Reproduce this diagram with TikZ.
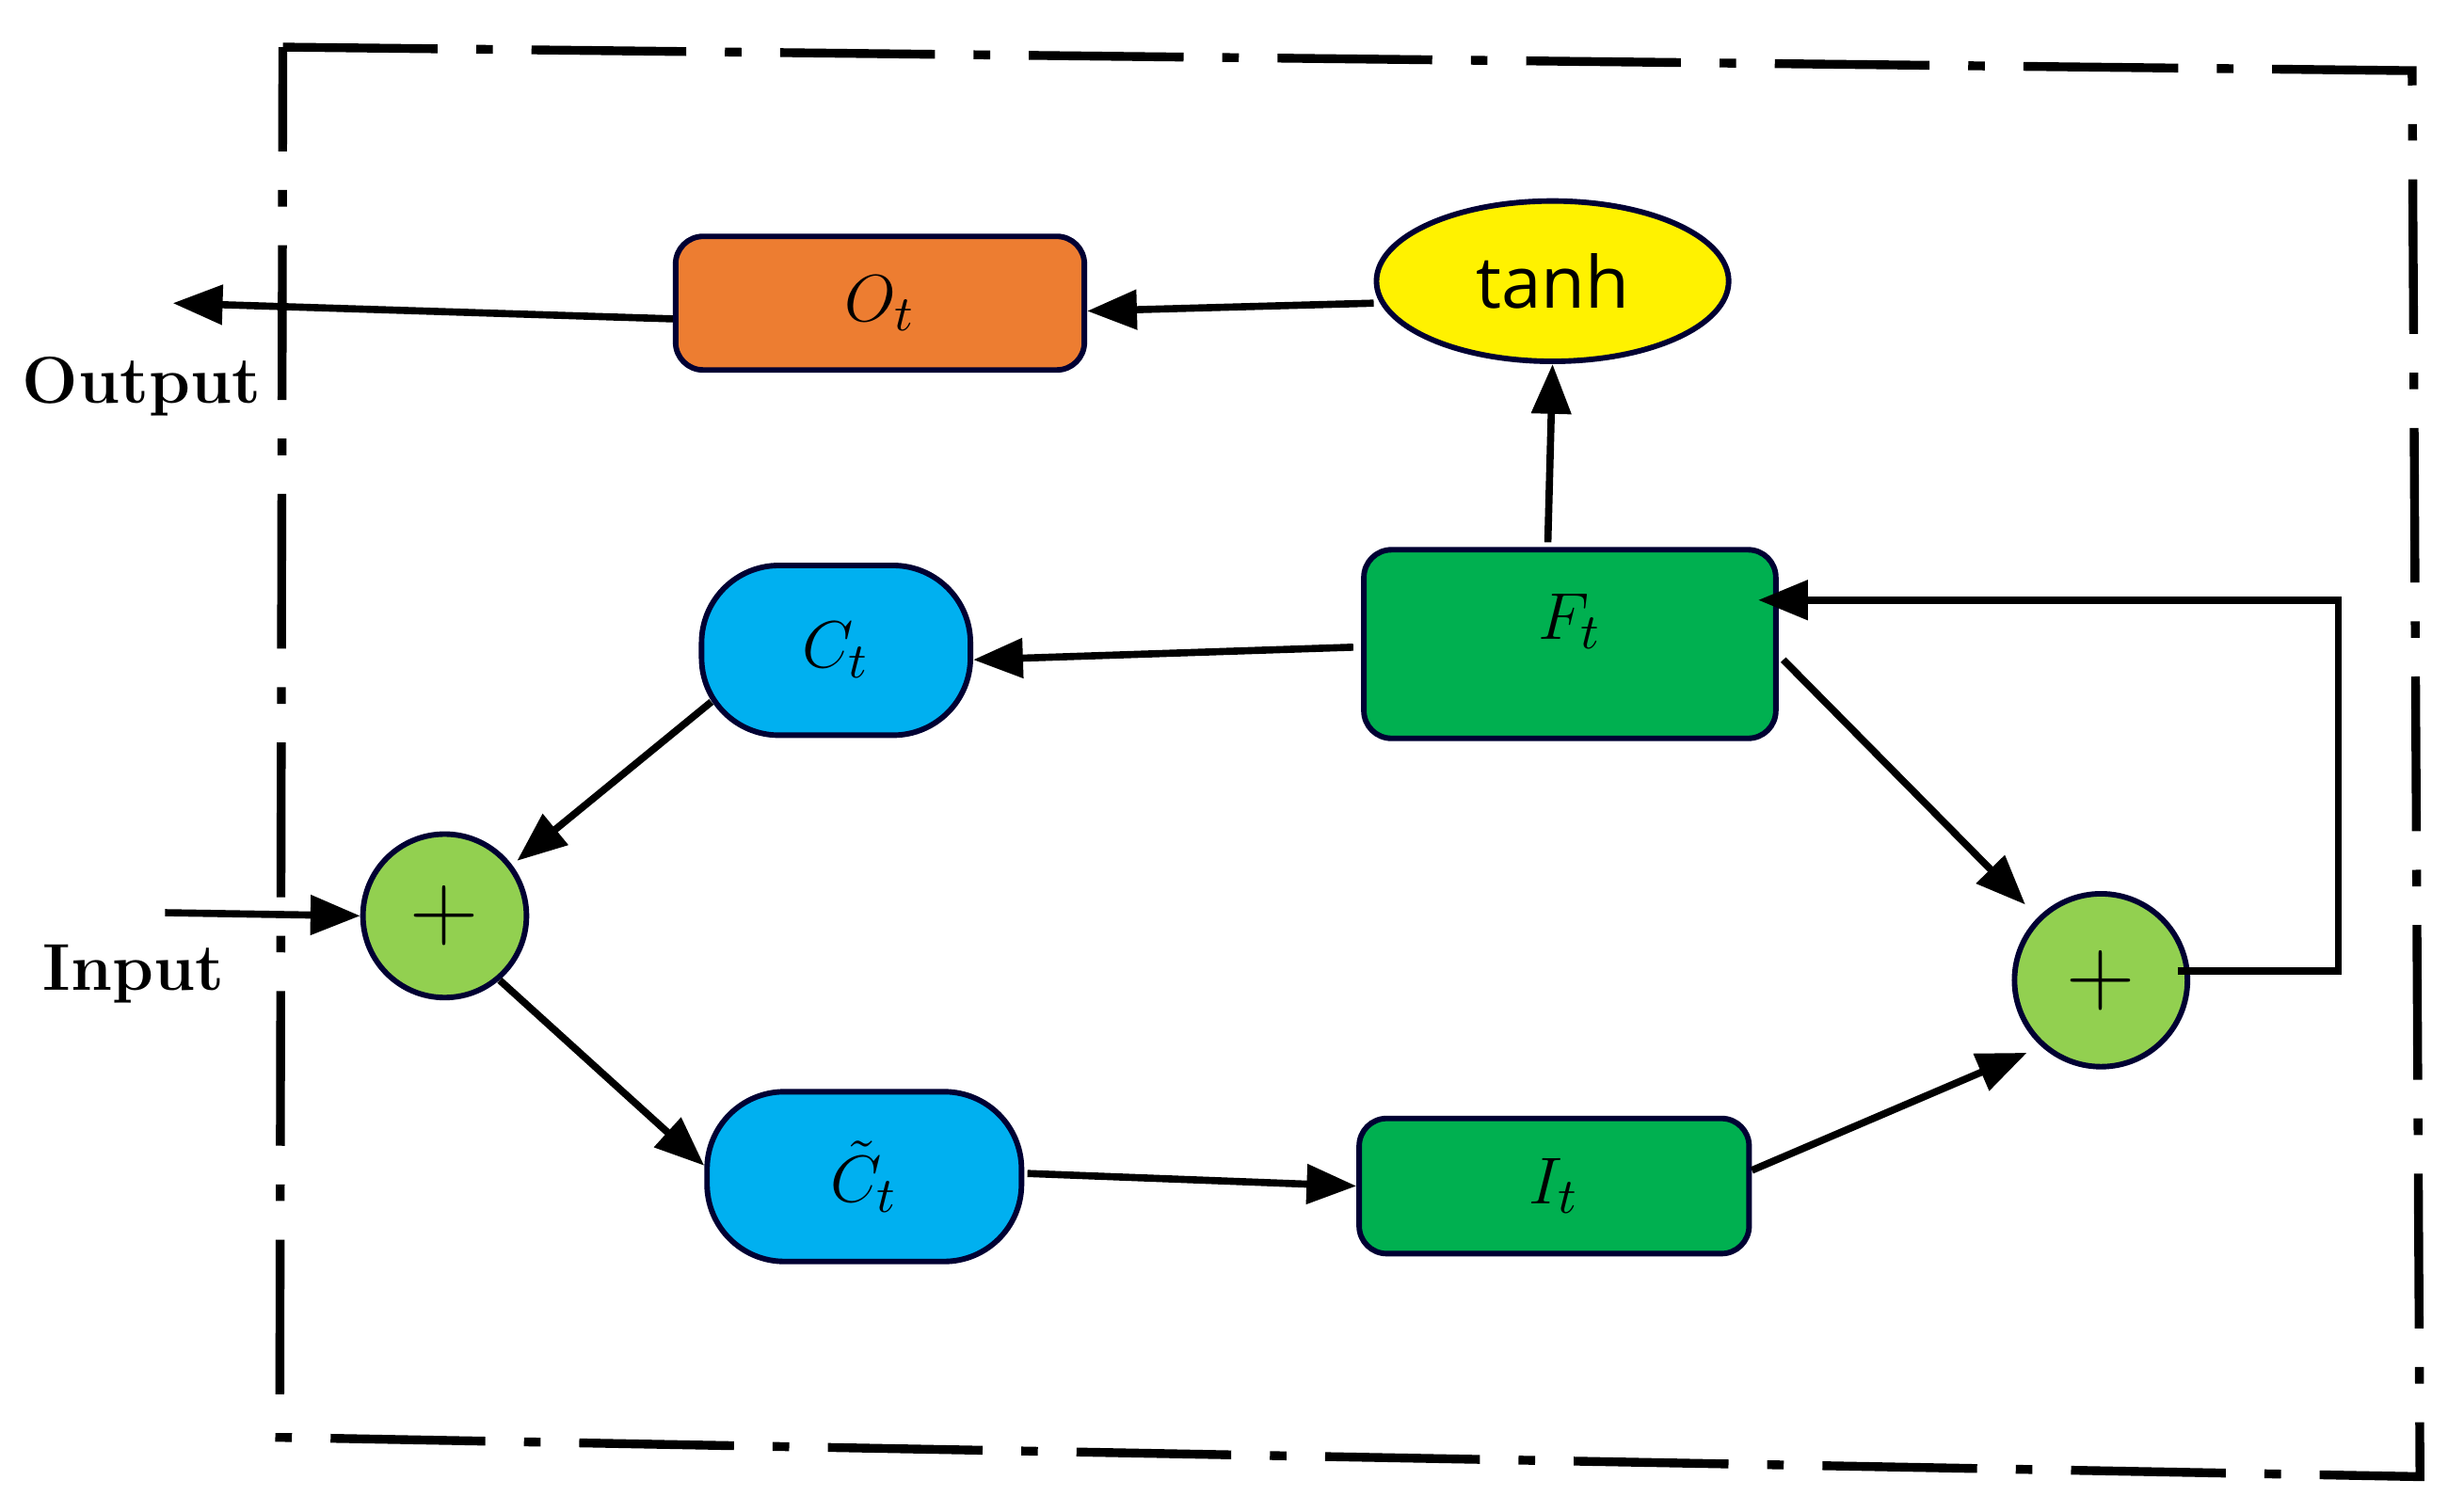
\documentclass[tikz,border=0pt]{standalone}
\usetikzlibrary{arrows.meta,shapes.geometric,calc}
\usepackage{fontspec}
\newfontfamily\sansf{Open Sans}
\begin{document}
\begin{tikzpicture}[x=0.01cm,y=-0.01cm,
  box/.style={draw=black!80!blue,line width=1pt,rounded corners=5pt,inner sep=0pt},
  capsule/.style={draw=black!80!blue,line width=1pt,rounded corners=14pt,inner sep=0pt},
  arr/.style={line width=1.3pt,-{Triangle[length=9pt,width=7pt]}},
  lbl/.style={font=\bfseries\fontsize{12}{14}\selectfont},
  mt/.style={font=\fontsize{13}{15}\selectfont},
  plus/.style={circle,draw=black!80!blue,line width=1pt,fill=lg,inner sep=0pt,font=\fontsize{18}{20}\selectfont}]
\useasboundingbox (0,0) rectangle (1568,962);
\definecolor{og}{RGB}{237,125,49}
\definecolor{gg}{RGB}{0,176,80}
\definecolor{bb}{RGB}{0,176,240}
\definecolor{lg}{RGB}{146,208,80}
\draw[line width=1.6pt,dash pattern=on 28pt off 7pt on 3pt off 7pt] (180,30) -- (1535,45) -- (1540,940) -- (178,915) -- cycle;
\node[box,fill=og,minimum width=2.6cm,minimum height=0.85cm,mt] (ot) at (560,193) {$O_t$};
\node[ellipse,draw=black!80!blue,line width=1pt,fill=yellow,minimum width=2.24cm,minimum height=1.02cm,font=\sansf\fontsize{13}{15}\selectfont] (tanh) at (988,179) {tanh};
\node[box,fill=gg,minimum width=2.62cm,minimum height=1.2cm,mt] (ft) at (999,410) {\raisebox{10pt}{$F_t$}};
\node[capsule,fill=bb,minimum width=1.71cm,minimum height=1.08cm,mt] (ct) at (532,414) {$C_t$};
\node[capsule,fill=bb,minimum width=2.0cm,minimum height=1.08cm,mt] (cc) at (550,749) {$\tilde{C}_t$};
\node[box,fill=gg,minimum width=2.48cm,minimum height=0.86cm,mt] (it) at (989,755) {$I_t$};
\node[plus,minimum size=1.04cm] (p1) at (283,583) {$+$};
\node[plus,minimum size=1.1cm] (p2) at (1337,624) {$+$};
\node[lbl] (out) at (90,246) {Output};
\node[lbl] (in) at (85,620) {Input};
\coordinate (oend) at (110,193);
\coordinate (istart) at (105,581);
\coordinate (r1) at (1488,618);
\coordinate (r2) at (1488,382);
\draw[arr] ($(tanh.west)+(0,14)$) -- ($(ot.east)+(0,5)$);
\draw[arr] ($(ot.west)+(0,10)$) -- (oend);
\draw[arr] ($(ft.north)+(-14,-3)$) -- (tanh.south);
\draw[arr] ($(ft.west)+(-5,2)$) -- ($(ct.east)+(0,6)$);
\draw[arr] ($(ct.south west)+(8,-23)$) -- ($(p1.north east)+(8,3)$);
\draw[arr] (istart) -- (p1.west);
\draw[arr] ($(p1.south east)+(-3,3)$) -- ($(cc.west)+(0,-7)$);
\draw[arr] ($(cc.east)+(2,-2)$) -- (it.west);
\draw[arr] ($(it.east)+(0,-10)$) -- ($(p2.south west)+(-7,6)$);
\draw[arr] ($(ft.east)+(3,10)$) -- ($(p2.north west)+(-8,-8)$);
\draw[arr] ($(p2.east)+(-8,-6)$) -- (r1) -- (r2) -- ($(ft.east |- r2)+(-13,0)$);
\end{tikzpicture}
\end{document}
